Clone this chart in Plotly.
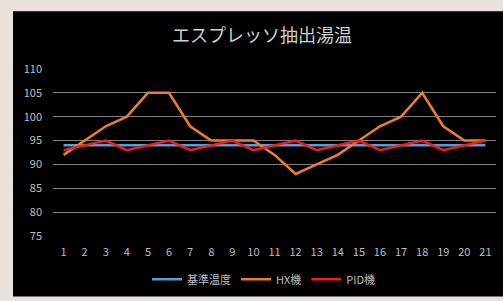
import plotly.graph_objects as go

x_labels = [str(i) for i in range(1, 22)]
base_temp = [94] * 21
hx_temp = [92, 95, 98, 100, 105, 105, 98, 95, 95, 95, 92, 88, 90, 92, 95, 98, 100, 105, 98, 95, 95]
pid_temp = [93, 94, 95, 93, 94, 95, 93, 94, 95, 93, 94, 95, 93, 94, 95, 93, 94, 95, 93, 94, 95]
y_ticks = [75, 80, 85, 90, 95, 100, 105, 110]

FONT = "Noto Sans CJK JP, sans-serif"

fig = go.Figure()
fig.add_trace(go.Scatter(x=x_labels, y=base_temp, mode="lines", name="基準温度",
                         line=dict(color="#5b9bd5", width=2.5)))
fig.add_trace(go.Scatter(x=x_labels, y=hx_temp, mode="lines", name="HX機",
                         line=dict(color="#ed7d31", width=2.5)))
fig.add_trace(go.Scatter(x=x_labels, y=pid_temp, mode="lines", name="PID機",
                         line=dict(color="#f01e1e", width=2.5)))

L, R, T, B = 53, 7, 68, 57
W, H = 503, 301
pw = W - L - R
ph = H - T - B

fig.add_shape(type="rect", xref="paper", yref="paper", layer="below",
              x0=(13 - L) / pw, x1=(W + 5 - L) / pw,
              y0=-(H + 5 - T - ph) / ph, y1=1 + (T - 9) / ph,
              fillcolor="black", line=dict(width=0))

fig.update_layout(
    width=W, height=H,
    margin=dict(l=L, r=R, t=T, b=B),
    paper_bgcolor="#e8e1dc",
    plot_bgcolor="black",
    font=dict(family=FONT, color="#bfbfbf", size=11),
    title=dict(text="エスプレッソ抽出湯温", x=262 / W, xanchor="center",
               y=1 - 36 / H, yanchor="middle", yref="container",
               font=dict(size=18, color="#d0d0d0", family=FONT)),
    showlegend=True,
    legend=dict(orientation="h", x=(264 - L) / pw, xanchor="center",
                y=-(288 - (T + ph)) / ph, yanchor="middle",
                font=dict(size=11, color="#bfbfbf"), bgcolor="rgba(0,0,0,0)",
                itemwidth=30, tracegroupgap=0),
    xaxis=dict(type="category", range=[-0.5, 20.5], showgrid=False, zeroline=False,
               showline=False, ticks="", tickfont=dict(size=11, color="#bfbfbf"),
               ticklabelstandoff=7),
    yaxis=dict(range=[74.8, 110.2], tickvals=y_ticks, showgrid=True,
               gridcolor="#7f7f7f", gridwidth=1, zeroline=False, showline=False,
               ticks="", tickfont=dict(size=11, color="#bfbfbf"),
               ticklabelstandoff=10),
)

fig.write_html("out.html", config={"displayModeBar": False},
               post_script="document.body.style.margin='0';document.body.style.overflow='hidden';")
